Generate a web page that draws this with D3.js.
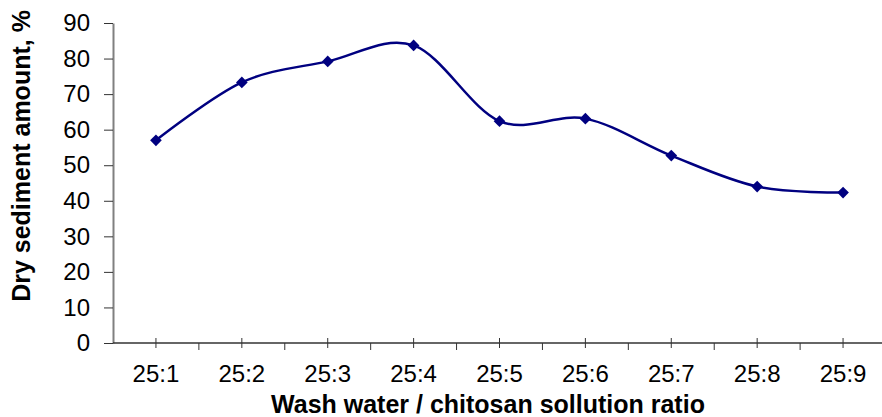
<!DOCTYPE html>
<html>
<head>
<meta charset="utf-8">
<script src="https://cdn.jsdelivr.net/npm/d3@7"></script>
<style>
  body { margin: 0; background: #fff; }
  svg { display: block; font-family: "Liberation Sans", Arial, sans-serif; }
</style>
</head>
<body>
<div id="chart"></div>
<script>
// Chart data
const ratios = ['25:1', '25:2', '25:3', '25:4', '25:5', '25:6', '25:7', '25:8', '25:9'];
const sediment = [57.0, 73.3, 79.2, 83.7, 62.4, 63.1, 52.7, 44.0, 42.3];
const yTicks = [0, 10, 20, 30, 40, 50, 60, 70, 80, 90];

const width = 882, height = 417;
const plot = { left: 113, right: 886, top: 23, bottom: 343 };

const svg = d3.select('#chart').append('svg')
    .attr('width', width)
    .attr('height', height);

const x = d3.scaleBand().domain(ratios).range([plot.left, plot.right]);
const y = d3.scaleLinear().domain([0, 90]).range([plot.bottom, plot.top]);

// Y axis
const yAxis = svg.append('g')
    .attr('transform', `translate(${plot.left},0)`)
    .call(d3.axisLeft(y).tickValues(yTicks).tickSize(9).tickSizeOuter(0).tickPadding(14));
yAxis.select('.domain').attr('stroke', '#808080').attr('stroke-width', 2);
yAxis.selectAll('.tick line').attr('stroke', '#333');
yAxis.selectAll('.tick text')
    .attr('font-size', 24)
    .attr('font-family', '"Liberation Sans", Arial, sans-serif')
    .attr('fill', '#000');

// X axis: boundary ticks below, centre ticks crossing the line
const xAxis = svg.append('g').attr('transform', `translate(0,${plot.bottom})`);
xAxis.append('line')
    .attr('x1', plot.left).attr('x2', plot.right)
    .attr('stroke', '#333').attr('stroke-width', 1.5);
xAxis.selectAll('.bound')
    .data(ratios.slice(1))
    .join('line')
    .attr('x1', d => x(d)).attr('x2', d => x(d))
    .attr('y1', 0).attr('y2', 7)
    .attr('stroke', '#333');
xAxis.selectAll('.mid')
    .data(ratios)
    .join('line')
    .attr('x1', d => x(d) + x.bandwidth() / 2).attr('x2', d => x(d) + x.bandwidth() / 2)
    .attr('y1', -5).attr('y2', 5)
    .attr('stroke', '#333');
xAxis.selectAll('text')
    .data(ratios)
    .join('text')
    .attr('x', d => x(d) + x.bandwidth() / 2)
    .attr('y', 39)
    .attr('text-anchor', 'middle')
    .attr('font-size', 24)
    .text(d => d);

// Smoothed line
const cx = d => x(d) + x.bandwidth() / 2;
const line = d3.line()
    .x((d, i) => cx(ratios[i]))
    .y(d => y(d))
    .curve(d3.curveCardinal.tension(0));

svg.append('path')
    .datum(sediment)
    .attr('d', line)
    .attr('fill', 'none')
    .attr('stroke', '#000080')
    .attr('stroke-width', 2.5);

// Diamond markers
svg.selectAll('.marker')
    .data(sediment)
    .join('path')
    .attr('transform', (d, i) => `translate(${cx(ratios[i])},${y(d)}) rotate(45)`)
    .attr('d', d3.symbol().type(d3.symbolSquare).size(68))
    .attr('fill', '#000080');

// Axis titles
svg.append('text')
    .attr('x', 488)
    .attr('y', 413)
    .attr('text-anchor', 'middle')
    .attr('font-size', 25)
    .attr('font-weight', 'bold')
    .text('Wash water / chitosan sollution ratio');

svg.append('text')
    .attr('transform', 'translate(30,156) rotate(-90)')
    .attr('text-anchor', 'middle')
    .attr('font-size', 25)
    .attr('font-weight', 'bold')
    .text('Dry sediment amount, %');
</script>
</body>
</html>
